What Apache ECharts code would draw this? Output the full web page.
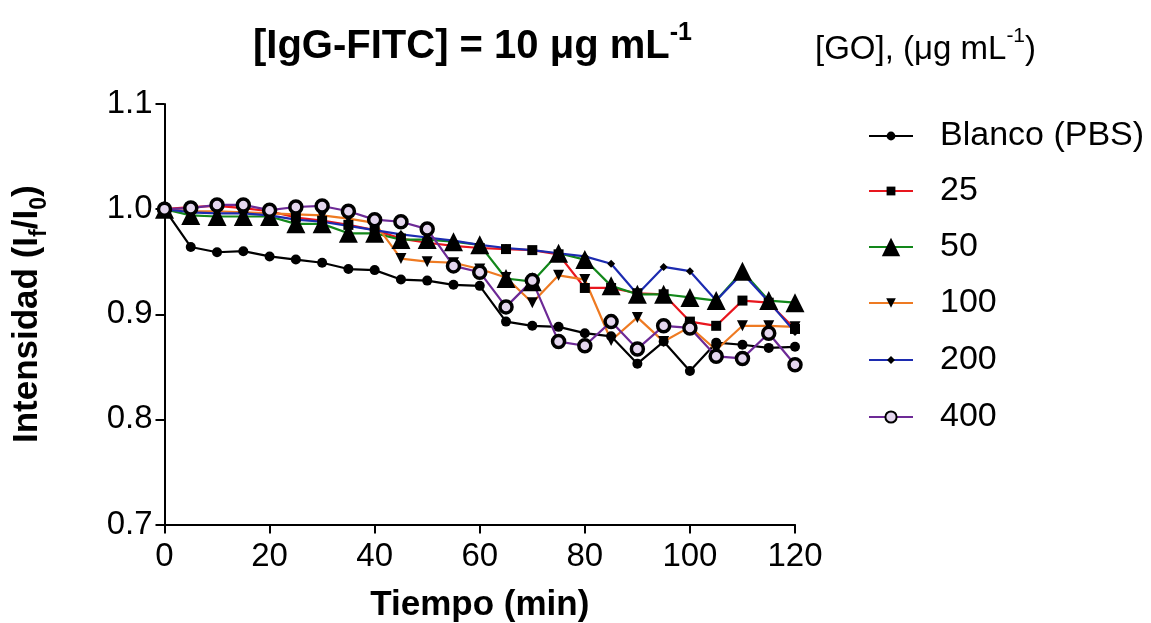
<!DOCTYPE html>
<html lang="es">
  <head>
    <meta charset="UTF-8" />
    <title>IgG-FITC</title>
    <script src="https://cdn.jsdelivr.net/npm/echarts@6/dist/echarts.min.js"></script>
    <style>
      body { margin: 0; background: #fff; }
      .con { width: 1151px; height: 623px; }
    </style>
  </head>
  <body>
    <div class="con"></div>
    <script>
      // tiempos de medida (min)
      const times = [0, 5, 10, 15, 20, 25, 30, 35, 40, 45, 50, 55, 60, 65, 70, 75, 80, 85, 90, 95, 100, 105, 110, 115, 120];
      const blanco = [1.000, 0.964, 0.959, 0.960, 0.955, 0.952, 0.949, 0.943, 0.942, 0.933, 0.932, 0.928, 0.927, 0.893, 0.889, 0.888, 0.882, 0.879, 0.853, 0.874, 0.846, 0.873, 0.871, 0.868, 0.869];
      const go25 = [1.000, 1.002, 1.003, 1.001, 0.998, 0.992, 0.989, 0.985, 0.980, 0.972, 0.968, 0.965, 0.963, 0.962, 0.961, 0.957, 0.925, 0.925, 0.920, 0.919, 0.893, 0.889, 0.913, 0.911, 0.886];
      const go50 = [1.000, 0.994, 0.993, 0.993, 0.993, 0.986, 0.986, 0.977, 0.977, 0.971, 0.971, 0.969, 0.966, 0.934, 0.931, 0.958, 0.952, 0.927, 0.919, 0.919, 0.916, 0.913, 0.941, 0.913, 0.911];
      const go100 = [1.000, 0.998, 0.998, 0.997, 0.996, 0.995, 0.994, 0.991, 0.987, 0.953, 0.950, 0.949, 0.943, 0.935, 0.911, 0.937, 0.933, 0.875, 0.897, 0.874, 0.888, 0.866, 0.889, 0.889, 0.888];
      const go200 = [1.000, 0.997, 0.996, 0.996, 0.994, 0.990, 0.988, 0.984, 0.980, 0.976, 0.973, 0.970, 0.966, 0.963, 0.961, 0.958, 0.955, 0.948, 0.919, 0.945, 0.941, 0.913, 0.939, 0.912, 0.883];
      const go400 = [1.000, 1.001, 1.004, 1.004, 0.999, 1.002, 1.003, 0.998, 0.990, 0.988, 0.981, 0.946, 0.940, 0.907, 0.932, 0.874, 0.870, 0.893, 0.867, 0.889, 0.887, 0.860, 0.858, 0.882, 0.852];
      const names = ["Blanco (PBS)", "25", "50", "100", "200", "400"];
      const xTicks = [0, 20, 40, 60, 80, 100, 120];
      const yTicks = [0.7, 0.8, 0.9, 1.0, 1.1];

      const font = "Liberation Sans, Arial, sans-serif";
      // estilo de cada serie: color de línea, símbolo, tamaño
      const styles = [
        { values: blanco, color: "#000000", symbol: "circle", size: 10, legendH: 11 },
        { values: go25, color: "#e8161e", symbol: "rect", size: 10, legendH: 11 },
        { values: go50, color: "#12871a", symbol: "triangle", size: 19, legendH: 23 },
        { values: go100, color: "#ee7a22", symbol: "triangle", rotate: 180, size: 11, legendH: 12 },
        { values: go200, color: "#1c2bb0", symbol: "diamond", size: 8, legendH: 10 },
        { values: go400, color: "#6d2a96", symbol: "circle", size: 12, legendH: 14, ring: true },
      ];
      const legendY = [135, 190, 246, 302, 359, 416];

      let mychart = echarts.init(document.querySelector(".con"));

      const series = styles.map((s, i) => ({
        name: names[i],
        type: "line",
        data: times.map((t, k) => [t, s.values[k]]),
        symbol: s.symbol,
        symbolSize: s.size,
        symbolRotate: s.rotate || 0,
        lineStyle: { color: s.color, width: 2.2 },
        itemStyle: s.ring
          ? { color: "#e4d6ee", borderColor: "#000000", borderWidth: 3.5 }
          : { color: "#000000", borderWidth: 0 },
        emphasis: { disabled: true },
        animation: false,
      }));

      // una leyenda por serie para que cada símbolo tenga su tamaño
      const legends = styles.map((s, i) => ({
        data: [names[i]],
        left: 868,
        top: legendY[i] - 16,
        padding: 0,
        itemWidth: 44,
        itemHeight: s.legendH,
        selectedMode: false,
        formatter: "{g|}{t|{name}}",
        textStyle: {
          rich: {
            g: { width: 22 },
            t: { fontSize: 34, fontFamily: font, color: "#000", lineHeight: 38 },
          },
        },
      }));

      const options = {
        backgroundColor: "#fff",
        title: [
          {
            text: "{b|[IgG-FITC] = 10 μg mL}{bs|-1}",
            left: 248,
            top: 16,
            textStyle: {
              rich: {
                b: { fontSize: 40, fontWeight: "bold", fontFamily: font, color: "#000", lineHeight: 46, verticalAlign: "bottom" },
                bs: { fontSize: 25, fontWeight: "bold", fontFamily: font, color: "#000", lineHeight: 46, verticalAlign: "top", padding: [0, 0, 16, 0] },
              },
            },
          },
          {
            text: "{r|[GO], (μg mL}{rs|-1}{r|)}",
            left: 810,
            top: 21,
            textStyle: {
              rich: {
                r: { fontSize: 33, fontWeight: "normal", fontFamily: font, color: "#000", lineHeight: 40, verticalAlign: "bottom" },
                rs: { fontSize: 21, fontWeight: "normal", fontFamily: font, color: "#000", lineHeight: 40, verticalAlign: "top", padding: [0, 0, 14, 0] },
              },
            },
          },
        ],
        legend: legends,
        grid: { left: 164.5, right: 356, top: 104, bottom: 98.5, outerBoundsMode: "none" },
        xAxis: {
          type: "value",
          min: xTicks[0],
          max: xTicks[xTicks.length - 1],
          interval: 20,
          name: "Tiempo (min)",
          nameLocation: "middle",
          nameGap: 63,
          nameTextStyle: { fontSize: 35, fontWeight: "bold", fontFamily: font, color: "#000" },
          axisLine: { onZero: false, lineStyle: { color: "#000", width: 2 } },
          axisTick: { length: 9, lineStyle: { width: 2 } },
          axisLabel: { fontSize: 33, fontFamily: font, color: "#000", margin: 16 },
          splitLine: { show: false },
        },
        yAxis: {
          type: "value",
          min: yTicks[0],
          max: yTicks[yTicks.length - 1],
          interval: 0.1,
          name: "{a|Intensidad (I}{s|f}{a|/I}{s|0}{a|)}",
          nameLocation: "middle",
          nameGap: 113,
          nameTextStyle: {
            rich: {
              a: { fontSize: 35, fontWeight: "bold", fontFamily: font, color: "#000", lineHeight: 42, verticalAlign: "top" },
              s: { fontSize: 23, fontWeight: "bold", fontFamily: font, color: "#000", lineHeight: 42, verticalAlign: "bottom", padding: [12, 0, 0, 0] },
            },
          },
          axisLine: { onZero: false, lineStyle: { color: "#000", width: 2 } },
          axisTick: { length: 9, lineStyle: { width: 2 } },
          axisLabel: { fontSize: 33, fontFamily: font, color: "#000", margin: 12, formatter: (v) => v.toFixed(1) },
          splitLine: { show: false },
        },
        series: series,
      };
      mychart.setOption(options);
    </script>
  </body>
</html>
